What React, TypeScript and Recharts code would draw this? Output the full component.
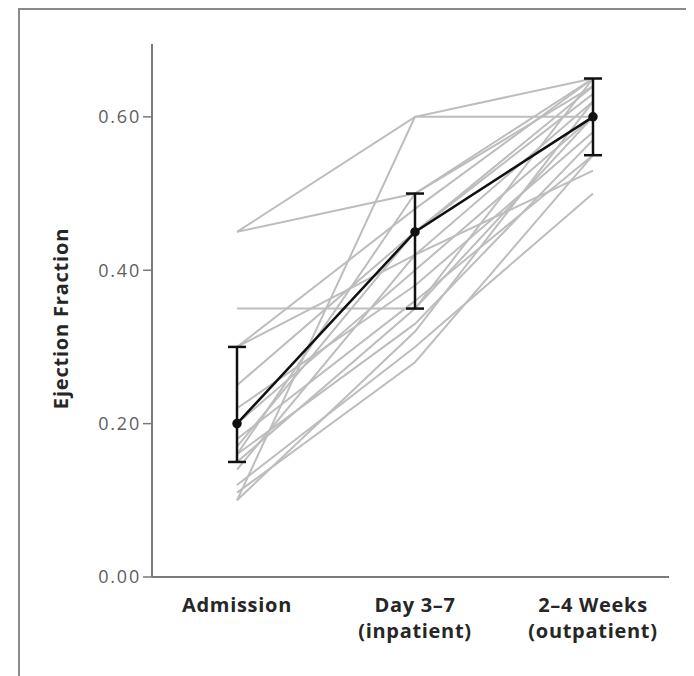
import React from "react";
import { LineChart, Line, XAxis, YAxis, ErrorBar } from "recharts";

const categories = ["Admission", "Day 3–7", "2–4 Weeks"];
const subLabels = ["", "(inpatient)", "(outpatient)"];
const yTicks = [0, 0.2, 0.4, 0.6];

// individual patients (one value per patient at each time point)
const admission = [0.45, 0.45, 0.35, 0.10, 0.30, 0.30, 0.25, 0.22, 0.20, 0.18, 0.16, 0.16, 0.15, 0.14, 0.12, 0.11, 0.10, 0.17];
const dayThree = [0.60, 0.50, 0.35, 0.60, 0.48, 0.42, 0.45, 0.38, 0.40, 0.36, 0.50, 0.33, 0.35, 0.42, 0.30, 0.28, 0.32, 0.45];
const weeks = [0.65, 0.65, 0.60, 0.60, 0.65, 0.62, 0.63, 0.58, 0.60, 0.55, 0.64, 0.57, 0.65, 0.53, 0.50, 0.55, 0.62, 0.64];

// summary series
const meanValues = [0.20, 0.45, 0.60];
const errLow = [0.05, 0.10, 0.05];
const errHigh = [0.10, 0.05, 0.05];

const patientSeries = [admission, dayThree, weeks];
const patientKeys = admission.map((_, i) => `p${i + 1}`);

const data = categories.map((c, ci) => {
  const row: any = { name: c, mean: meanValues[ci], err: [errLow[ci], errHigh[ci]] };
  patientKeys.forEach((k, pi) => {
    row[k] = patientSeries[ci][pi];
  });
  return row;
});

const FONT = "'Open Sans', 'Noto Sans', sans-serif";

const XTick = (props: any) => {
  const { x, y, payload } = props;
  const idx = categories.indexOf(payload.value);
  return (
    <text
      x={x}
      y={y}
      textAnchor="middle"
      fill="#262626"
      fontFamily={FONT}
      fontWeight={700}
      fontSize={20}
      letterSpacing={0.7}
    >
      <tspan x={x} dy={27}>{payload.value}</tspan>
      {subLabels[idx] ? <tspan x={x} dy={26}>{subLabels[idx]}</tspan> : null}
    </text>
  );
};

export default function App() {
  return (
    <div style={{ position: "relative", width: 686, height: 668, overflow: "hidden", background: "#fff" }}>
      <div
        style={{
          position: "absolute",
          left: 10,
          top: 0,
          width: 720,
          height: 720,
          borderLeft: "2px solid #8a8a8a",
          borderTop: "2px solid #8a8a8a",
        }}
      />
      <div style={{ position: "absolute", left: 0, top: 0 }}>
        <LineChart width={680} height={660} data={data} margin={{ top: 36, right: 19, bottom: 31, left: 64 }}>
          <XAxis
            dataKey="name"
            padding={{ left: 85, right: 76 }}
            axisLine={{ stroke: "#7a7a7a", strokeWidth: 2 }}
            tickLine={false}
            tick={<XTick />}
            height={60}
            interval={0}
          />
          <YAxis
            domain={[0, 0.695]}
            ticks={yTicks}
            width={80}
            tickFormatter={(v: number) => v.toFixed(2)}
            axisLine={{ stroke: "#7a7a7a", strokeWidth: 2 }}
            tickLine={{ stroke: "#7a7a7a", strokeWidth: 1.5 }}
            tickSize={9}
            tickMargin={2}
            tick={{ fill: "#606060", fontSize: 18, fontFamily: FONT, letterSpacing: 1.8 }}
            label={{
              value: "Ejection Fraction",
              angle: -90,
              position: "insideLeft",
              dx: -16,
              dy: 8,
              fill: "#262626",
              fontFamily: FONT,
              fontWeight: 700,
              fontSize: 20,
              letterSpacing: 0.8,
              style: { textAnchor: "middle", letterSpacing: 0.8 },
            }}
          />
          {patientKeys.map((k) => (
            <Line
              key={k}
              dataKey={k}
              stroke="#bdbdbd"
              strokeWidth={2}
              dot={false}
              isAnimationActive={false}
            />
          ))}
          <Line
            dataKey="mean"
            stroke="#111"
            strokeWidth={2.5}
            dot={{ r: 3.5, fill: "#111", stroke: "#111" }}
            isAnimationActive={false}
          >
            <ErrorBar dataKey="err" width={9} stroke="#111" strokeWidth={2.5} direction="y" />
          </Line>
        </LineChart>
      </div>
    </div>
  );
}
